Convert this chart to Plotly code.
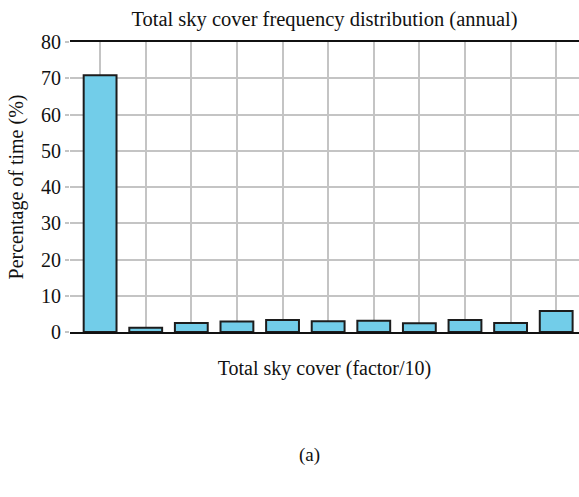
import plotly.graph_objects as go

# Total sky cover categories (tenths) and annual frequency in percent of time
sky_cover = [0, 1, 2, 3, 4, 5, 6, 7, 8, 9, 10]
percent_time = [70.8, 1.2, 2.5, 2.9, 3.3, 3.0, 3.1, 2.4, 3.3, 2.5, 5.8]
y_ticks = [0, 10, 20, 30, 40, 50, 60, 70, 80]

serif = "Liberation Serif, Times New Roman, serif"

fig = go.Figure(
    go.Bar(
        x=sky_cover,
        y=percent_time,
        width=0.72,
        marker=dict(color="#72cde9", line=dict(color="#1c1c1c", width=2)),
    )
)

fig.update_layout(
    width=579,
    height=497,
    margin=dict(l=70, r=0, t=42, b=165),
    paper_bgcolor="white",
    plot_bgcolor="white",
    showlegend=False,
    font=dict(family=serif, size=20, color="#111111"),
    title=dict(
        text="Total sky cover frequency distribution (annual)",
        x=0.5,
        xref="paper",
        xanchor="center",
        y=0.963,
        yanchor="middle",
        font=dict(family=serif, size=20.5, color="#111111"),
    ),
    annotations=[
        dict(
            text="(a)",
            x=0.47,
            xref="paper",
            y=-0.424,
            yref="paper",
            yanchor="middle",
            showarrow=False,
            font=dict(family=serif, size=19, color="#111111"),
        )
    ],
)

fig.update_xaxes(
    range=[-0.66, 10.5],
    tickvals=sky_cover,
    showticklabels=False,
    ticks="",
    showgrid=True,
    gridcolor="#c4c4c4",
    gridwidth=2,
    showline=True,
    linecolor="#111111",
    linewidth=2,
    mirror=True,
    zeroline=False,
    title=dict(text="Total sky cover (factor/10)", standoff=28,
               font=dict(family=serif, size=20)),
)

fig.update_yaxes(
    range=[0, 80],
    tickvals=y_ticks,
    ticks="outside",
    ticklen=4,
    tickwidth=2,
    tickcolor="#c4c4c4",
    showgrid=True,
    gridcolor="#c4c4c4",
    gridwidth=2,
    showline=False,
    zeroline=False,
    tickfont=dict(family=serif, size=20),
    title=dict(text="Percentage of time (%)", standoff=12,
               font=dict(family=serif, size=20)),
)

fig.write_html("out.html")
